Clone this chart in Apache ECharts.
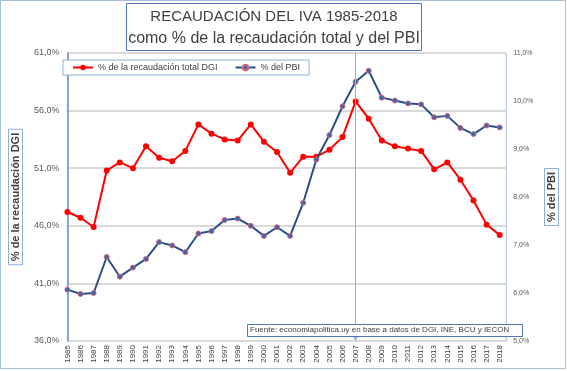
<!DOCTYPE html>
<html><head><meta charset="utf-8">
<script src="https://cdn.jsdelivr.net/npm/echarts@6/dist/echarts.min.js"></script>
<style>html,body{margin:0;padding:0;background:#fff}#c{width:567px;height:371px}</style>
</head><body><div id="c"></div>
<script>
const years = ['1985','1986','1987','1988','1989','1990','1991','1992','1993','1994','1995','1996','1997','1998','1999','2000','2001','2002','2003','2004','2005','2006','2007','2008','2009','2010','2011','2012','2013','2014','2015','2016','2017','2018'];
const pctDGI = [47.2,46.7,45.9,50.8,51.5,51.0,52.9,51.9,51.6,52.5,54.8,54.0,53.5,53.4,54.8,53.3,52.4,50.6,52.0,52.0,52.6,53.7,56.8,55.3,53.4,52.9,52.7,52.5,50.9,51.5,50.0,48.2,46.1,45.2];
const pctPBI = [6.07,5.98,6.00,6.75,6.34,6.53,6.71,7.06,6.99,6.85,7.24,7.29,7.52,7.55,7.40,7.19,7.37,7.19,7.88,8.78,9.29,9.89,10.40,10.63,10.07,10.01,9.95,9.93,9.66,9.69,9.44,9.31,9.49,9.45];
const leftTicks = {min:36, max:61, step:5};
const rightTicks = {min:5, max:11, step:1};
const markYear = 2007;
const titleLines = ['RECAUDACIÓN DEL IVA 1985-2018','como % de la recaudación total y del PBI'];
const seriesNames = ['% de la recaudación total DGI','% del PBI'];
const sourceText = 'Fuente: economiapolitica.uy en base a datos de DGI, INE, BCU y IECON';

const FONT = '"Liberation Sans", Arial, sans-serif';
const fmt = v => v.toFixed(1).replace('.', ',') + '%';
const chart = echarts.init(document.getElementById('c'));
chart.setOption({
  animation:false,
  textStyle:{fontFamily:FONT},
  grid:{left:52, top:53, right:44, bottom:30, show:true, borderColor:'#a7bfdf', borderWidth:1},
  graphic:[
    {type:'rect', shape:{x:0.5,y:0.5,width:565,height:368}, style:{fill:'none', stroke:'#a7bfdf', lineWidth:1}, silent:true, z:-10},
    {type:'rect', shape:{x:126.5,y:3.5,width:295,height:47}, style:{fill:'#fff', stroke:'#4f78b0', lineWidth:1}, silent:true},
    {type:'text', x:274, y:9, style:{text:titleLines[0], fill:'#404040', font:'15px '+FONT, textAlign:'center'}},
    {type:'text', x:274, y:31, style:{text:titleLines[1], fill:'#404040', font:'16px '+FONT, textAlign:'center'}},
    {type:'rect', shape:{x:247.5,y:324.5,width:275,height:12}, style:{fill:'#fff', stroke:'#4f78b0', lineWidth:1}, silent:true, z:10},
    {type:'text', x:250, y:326, style:{text:sourceText, fill:'#404040', font:'8px '+FONT}, z:11}
  ],
  legend:{
    left:63, top:60, padding:[3,9,3,9], itemGap:17, itemWidth:20, itemHeight:7,
    borderColor:'#8eaedb', borderWidth:1, backgroundColor:'#fff',
    textStyle:{fontSize:9, color:'#404040', fontFamily:FONT},
    data:seriesNames
  },
  xAxis:{
    type:'value', min:Number(years[0]), max:Number(years[years.length-1])+0.5, interval:1,
    axisLine:{show:false}, axisTick:{show:false}, splitLine:{show:false},
    axisLabel:{rotate:90, fontSize:8, color:'#404040', margin:4,
      showMaxLabel:false, formatter:v => Number.isInteger(v) ? String(v) : ''}
  },
  yAxis:[
    {type:'value', min:leftTicks.min, max:leftTicks.max, interval:leftTicks.step,
     axisLine:{show:true, lineStyle:{color:'#6f93c8', width:1.5}}, axisTick:{show:false},
     splitLine:{show:true, lineStyle:{color:'#dadada', width:2}},
     axisLabel:{formatter:fmt, fontSize:9, color:'#595959', margin:8},
     name:'% de la recaudación DGI', nameLocation:'middle', nameGap:41, nameRotate:90,
     nameTextStyle:{fontSize:11, fontWeight:'bold', color:'#404040', borderColor:'#8eaedb', borderWidth:1, padding:[1,3,1,3], backgroundColor:'#fff'}},
    {type:'value', min:rightTicks.min, max:rightTicks.max, interval:rightTicks.step, position:'right',
     axisLine:{show:false}, axisTick:{show:false}, splitLine:{show:false},
     axisLabel:{formatter:fmt, fontSize:7, color:'#595959', margin:7},
     name:'% del PBI', nameLocation:'middle', nameGap:34, nameRotate:90,
     nameTextStyle:{fontSize:11, fontWeight:'bold', color:'#404040', borderColor:'#8eaedb', borderWidth:1, padding:[1,3,1,3], backgroundColor:'#fff'}}
  ],
  series:[
    {name:seriesNames[0], type:'line', yAxisIndex:0, data:years.map((y,i)=>[Number(y), pctDGI[i]]),
     symbol:'circle', symbolSize:6, lineStyle:{color:'#ff0000', width:2}, itemStyle:{color:'#ff0000'}, z:3,
     markLine:{silent:true, symbol:['arrow','none'], symbolSize:[6,7], label:{show:false},
       lineStyle:{color:'#8eb4e3', width:1, type:'solid'}, data:[{xAxis:markYear}]}},
    {name:seriesNames[1], type:'line', yAxisIndex:1, data:years.map((y,i)=>[Number(y), pctPBI[i]]),
     symbol:'circle', symbolSize:5, lineStyle:{color:'#2a4f86', width:2},
     itemStyle:{color:'#3d65a8', borderColor:'#d46a7a', borderWidth:1}, z:4}
  ]
});
</script></body></html>
